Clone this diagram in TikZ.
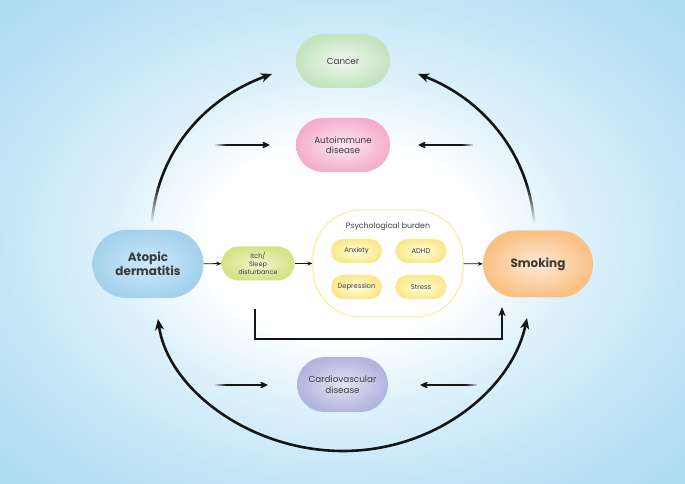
\documentclass[tikz,border=0pt]{standalone}
\usepackage{fontspec}
\setmainfont{Poppins}
\usetikzlibrary{arrows.meta,fadings}
\definecolor{bgmid}{HTML}{DDF1FB}
\definecolor{bgedge}{HTML}{C3E6F7}
\definecolor{bgcorner}{HTML}{ADDBF3}
\definecolor{txt}{HTML}{3A3A3A}
\definecolor{arr}{HTML}{151515}
\pgfdeclareradialshading{bgshade}{\pgfpoint{0bp}{0bp}}{color(0bp)=(white); color(10bp)=(white); color(17bp)=(bgmid); color(25bp)=(bgedge); color(35bp)=(bgcorner); color(50bp)=(bgcorner)}
\pgfdeclarehorizontalshading{fadeRsh}{100bp}{color(0bp)=(pgftransparent!100); color(25bp)=(pgftransparent!100); color(36bp)=(pgftransparent!0); color(100bp)=(pgftransparent!0)}
\pgfdeclarefading{fadeR}{\pgfuseshading{fadeRsh}}
\pgfdeclarehorizontalshading{fadeLsh}{100bp}{color(0bp)=(pgftransparent!0); color(64bp)=(pgftransparent!0); color(75bp)=(pgftransparent!100); color(100bp)=(pgftransparent!100)}
\pgfdeclarefading{fadeL}{\pgfuseshading{fadeLsh}}
\pgfdeclareverticalshading{fadeUsh}{100bp}{color(0bp)=(pgftransparent!100); color(25bp)=(pgftransparent!100); color(38bp)=(pgftransparent!0); color(100bp)=(pgftransparent!0)}
\pgfdeclarefading{fadeU}{\pgfuseshading{fadeUsh}}
\tikzset{
  pill/.style={shade, minimum width=#1, inner sep=0pt, align=center, text=txt, font=\fontsize{8.8}{10.5}\selectfont},
  sub/.style={shade, inner color=yellow!12!white, outer color={rgb,255:red,251;green,232;blue,138}, minimum width=51pt, minimum height=24pt, rounded corners=12pt, inner sep=0pt, text=txt, font=\fontsize{6.8}{8}\selectfont},
  big/.style={-{Stealth[length=11pt,width=9pt,inset=3pt]}, line width=2.6pt, draw=arr},
  mid/.style={-{Stealth[length=8pt,width=7.5pt,inset=2pt]}, line width=2.4pt, draw=arr},
  small/.style={-{Stealth[length=5pt,width=4pt]}, line width=0.9pt, draw=arr},
}
\begin{document}
\begin{tikzpicture}[x=1pt,y=1pt]
\useasboundingbox (0,0) rectangle (685,484);
\shade[shading=bgshade] (0,0) rectangle (685,484);

% nodes
\node[pill=94pt, minimum height=54pt, rounded corners=27pt, inner color={rgb,255:red,240;green,248;blue,238}, outer color={rgb,255:red,196;green,227;blue,192}] (cancer) at (343,423) {Cancer};
\node[pill=94pt, minimum height=54pt, rounded corners=27pt, inner color={rgb,255:red,252;green,232;blue,241}, outer color={rgb,255:red,244;green,175;blue,203}] (auto) at (343,339) {Autoimmune\\disease};
\node[pill=111pt, minimum height=68pt, rounded corners=34pt, inner color={rgb,255:red,206;green,232;blue,248}, outer color={rgb,255:red,164;green,210;blue,238}, font=\fontsize{12}{14}\selectfont\bfseries] (ad) at (148,220) {Atopic\\dermatitis};
\node[pill=73pt, minimum height=34pt, rounded corners=17pt, inner color={rgb,255:red,240;green,245;blue,205}, outer color={rgb,255:red,214;green,226;blue,134}, font=\fontsize{6.5}{7.8}\selectfont] (itch) at (258,220.5) {Itch/\\Sleep\\disturbance};
\node[draw={rgb,255:red,249;green,234;blue,150}, line width=1pt, fill=white, minimum width=150pt, minimum height=107pt, rounded corners=48pt, inner sep=0pt] (psy) at (388,220.5) {};
\node[text=txt, font=\fontsize{7.8}{9}\selectfont, inner sep=0pt] (psytitle) at (388,257) {Psychological burden};
\node[sub] (anx) at (356.5,233) {Anxiety};
\node[sub] (adhd) at (421,233) {ADHD};
\node[sub] (dep) at (356.5,197) {Depression};
\node[sub] (stress) at (421,197) {Stress};
\node[pill=110pt, minimum height=67pt, rounded corners=33.5pt, inner color={rgb,255:red,253;green,234;blue,212}, outer color={rgb,255:red,250;green,192;blue,132}, font=\fontsize{12}{14}\selectfont\bfseries] (smoke) at (538,220) {Smoking};
\node[pill=91pt, minimum height=55pt, rounded corners=27.5pt, inner color={rgb,255:red,226;green,227;blue,244}, outer color={rgb,255:red,178;green,181;blue,222}] (cardio) at (342.5,99.5) {Cardiovascular\\disease};

% coordinates
\coordinate (ltS) at (152,262);
\coordinate (ltE) at (272,410);
\coordinate (rtS) at (534,262);
\coordinate (rtE) at (418,410);
\coordinate (bL) at (158,165);
\coordinate (bM) at (343,33);
\coordinate (bR) at (527,166);
\coordinate (aL1) at (215,339);
\coordinate (aL2) at (270,339);
\coordinate (aR1) at (473,339);
\coordinate (aR2) at (418,339);
\coordinate (cL1) at (215,99);
\coordinate (cL2) at (268,99);
\coordinate (cR1) at (477,99);
\coordinate (cR2) at (420,99);
\coordinate (lS) at (255,175);
\coordinate (lA) at (255,145);
\coordinate (lB) at (502,145);
\coordinate (lE) at (502,177);

% big arcs
\draw[big, path fading=fadeU] (ltS) .. controls (158,334) and (206,386) .. (ltE);
\draw[big, path fading=fadeU] (rtS) .. controls (528,334) and (480,386) .. (rtE);
\draw[big, {Stealth[length=11pt,width=9pt,inset=3pt]}-{Stealth[length=11pt,width=9pt,inset=3pt]}] (bL) .. controls (168,95) and (250,33) .. (bM) .. controls (436,33) and (512,95) .. (bR);

% horizontal arrows
\draw[mid, path fading=fadeR] (aL1) -- (aL2);
\draw[mid, path fading=fadeL] (aR1) -- (aR2);
\draw[mid, path fading=fadeR] (cL1) -- (cL2);
\draw[mid, path fading=fadeL] (cR1) -- (cR2);

% L connector
\draw[-{Stealth[length=9pt,width=7pt,inset=2.5pt]}, line width=2.2pt, draw=arr] (lS) -- (lA) -- (lB) -- (lE);

% small arrows
\draw[small] (ad) -- (itch);
\draw[small] (itch) -- (psy);
\draw[small] (psy) -- (smoke);
\end{tikzpicture}
\end{document}
